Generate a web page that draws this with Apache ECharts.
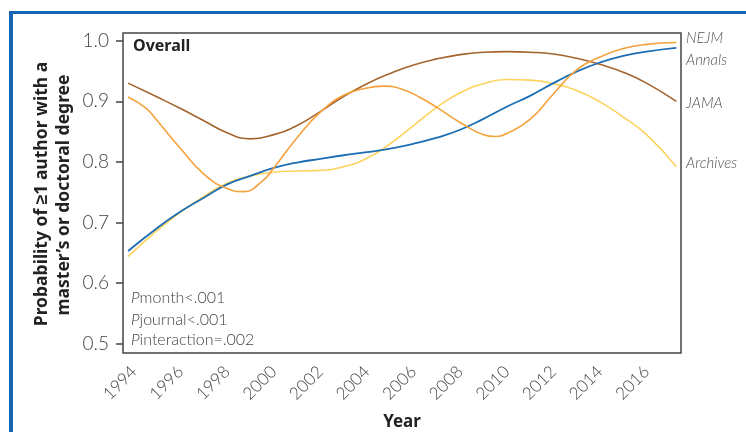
<!DOCTYPE html>
<html>
<head>
<meta charset="utf-8">
<script src="https://cdn.jsdelivr.net/npm/echarts@6/dist/echarts.min.js"></script>
<style>
html,body{margin:0;padding:0;background:#fff;}
#chart{width:746px;height:432px;}
</style>
</head>
<body>
<div id="chart"></div>
<script>
// ---- data ----
var yearTicks = [1994,1996,1998,2000,2002,2004,2006,2008,2010,2012,2014,2016];
var yTicks = [0.5,0.6,0.7,0.8,0.9,1.0];
var seriesNames = ['NEJM','Annals','JAMA','Archives'];

var years = [1993.75,1995,1996,1997,1998,1999,2000,2001,2002,2003,2004,2005,2006,2007,2008,2009,2010,2011,2012,2013,2014,2015,2016,2017.28];
var jamaVals     = [0.930,0.907,0.888,0.868,0.848,0.838,0.845,0.860,0.883,0.908,0.929,0.946,0.960,0.970,0.977,0.981,0.982,0.981,0.978,0.971,0.961,0.948,0.930,0.900];
var archivesVals = [0.644,0.687,0.717,0.743,0.765,0.777,0.783,0.785,0.786,0.792,0.806,0.830,0.860,0.890,0.914,0.929,0.936,0.935,0.929,0.918,0.899,0.874,0.845,0.792];
var annalsVals   = [0.653,0.691,0.718,0.741,0.763,0.777,0.790,0.799,0.805,0.811,0.816,0.822,0.830,0.840,0.853,0.871,0.891,0.909,0.930,0.949,0.964,0.975,0.982,0.988];
// NEJM has sharper turns, read at a finer set of years
var nejmYears = [1993.75,1994.5,1995,1996,1997,1998,1998.7,1999.5,2000,2001,2002,2003,2004,2004.7,2005.5,2006.3,2007,2008,2009,2009.5,2010,2011,2012,2013,2014,2015,2016,2017.28];
var nejmVals  = [0.907,0.889,0.868,0.822,0.780,0.756,0.751,0.768,0.790,0.840,0.882,0.910,0.922,0.925,0.920,0.906,0.890,0.865,0.845,0.842,0.847,0.870,0.912,0.952,0.973,0.987,0.994,0.997];

var colors = {NEJM:'#f5a23c', Annals:'#1b6db4', JAMA:'#a3642e', Archives:'#fdd25e'};
var labelFont = 'Lato, "Open Sans", sans-serif';

function pairs(xs, ys){ return xs.map(function(x,i){ return [x, ys[i]]; }); }

var chart = echarts.init(document.getElementById('chart'), null, {renderer:'canvas'});

function line(name, data, z, w){
  return {name:name, type:'line', data:data, smooth:0.5, showSymbol:false, symbol:'none', z:z,
    lineStyle:{color:colors[name], width:w}, itemStyle:{color:colors[name]}};
}

chart.setOption({
  animation:false,
  backgroundColor:'#fff',
  grid:{left:123, right:65, top:33, bottom:79, show:true, borderColor:'#444', borderWidth:1.5, backgroundColor:'transparent'},
  xAxis:{type:'value', min:1993.53, max:2017.48,
    axisLine:{show:false}, axisTick:{show:false}, splitLine:{show:false},
    axisLabel:{customValues:yearTicks, rotate:45, margin:16, color:'#444', fontSize:17, fontFamily:labelFont, fontWeight:300,
      formatter:function(v){ return String(Math.round(v)); }}
  },
  yAxis:{type:'value', min:0.4847, max:1.0127,
    axisLine:{show:false}, splitLine:{show:false},
    axisTick:{show:true, customValues:yTicks, length:7, lineStyle:{color:'#444', width:1.5}},
    axisLabel:{customValues:yTicks, margin:14, color:'#444', fontSize:19, fontFamily:labelFont, fontWeight:300,
      formatter:function(v){return v.toFixed(1);}}
  },
  series:[
    line('JAMA', pairs(years, jamaVals), 2, 1.6),
    line('Archives', pairs(years, archivesVals), 3, 1.6),
    line('Annals', pairs(years, annalsVals), 4, 1.8),
    line('NEJM', pairs(nejmYears, nejmVals), 5, 1.6)
  ],
  graphic:[
    {type:'rect', shape:{x:9, y:11, width:4, height:421}, style:{fill:'#1565b4'}, silent:true},
    {type:'rect', shape:{x:9, y:11, width:737, height:3}, style:{fill:'#1565b4'}, silent:true},
    {type:'text', x:133, y:46, style:{text:'Overall', font:'bold 16px "Noto Sans", sans-serif', fill:'#222', verticalAlign:'middle'}},
    {type:'text', x:42, y:194, rotation:Math.PI/2, style:{text:'Probability of \u22651 author with a', font:'bold 17.5px "Noto Sans", sans-serif', fill:'#222', align:'center', verticalAlign:'middle'}},
    {type:'text', x:64, y:195, rotation:Math.PI/2, style:{text:'master\u2019s or doctoral degree', font:'bold 17.5px "Noto Sans", sans-serif', fill:'#222', align:'center', verticalAlign:'middle'}},
    {type:'text', x:402, y:422, style:{text:'Year', font:'bold 17px "Noto Sans", sans-serif', fill:'#222', align:'center', verticalAlign:'middle'}},
    {type:'text', x:131, y:298, style:{rich:{p:{fontStyle:'italic', fontSize:16, fontFamily:labelFont, fontWeight:300, fill:'#444'}, t:{fontSize:16, fontFamily:labelFont, fontWeight:300, fill:'#444'}}, text:'{p|P}{t|month<.001}', verticalAlign:'middle'}},
    {type:'text', x:131, y:320, style:{rich:{p:{fontStyle:'italic', fontSize:16, fontFamily:labelFont, fontWeight:300, fill:'#444'}, t:{fontSize:16, fontFamily:labelFont, fontWeight:300, fill:'#444'}}, text:'{p|P}{t|journal<.001}', verticalAlign:'middle'}},
    {type:'text', x:131, y:340, style:{rich:{p:{fontStyle:'italic', fontSize:16, fontFamily:labelFont, fontWeight:300, fill:'#444'}, t:{fontSize:16, fontFamily:labelFont, fontWeight:300, fill:'#444'}}, text:'{p|P}{t|interaction=.002}', verticalAlign:'middle'}},
    {type:'text', x:686, y:38, style:{text:'NEJM', font:'italic 300 15px Lato, sans-serif', fill:'#555', verticalAlign:'middle'}},
    {type:'text', x:686, y:60, style:{text:'Annals', font:'italic 300 15px Lato, sans-serif', fill:'#555', verticalAlign:'middle'}},
    {type:'text', x:686, y:103, style:{text:'JAMA', font:'italic 300 15px Lato, sans-serif', fill:'#555', verticalAlign:'middle'}},
    {type:'text', x:686, y:163, style:{text:'Archives', font:'italic 300 15px Lato, sans-serif', fill:'#555', verticalAlign:'middle'}}
  ]
});
</script>
</body>
</html>
